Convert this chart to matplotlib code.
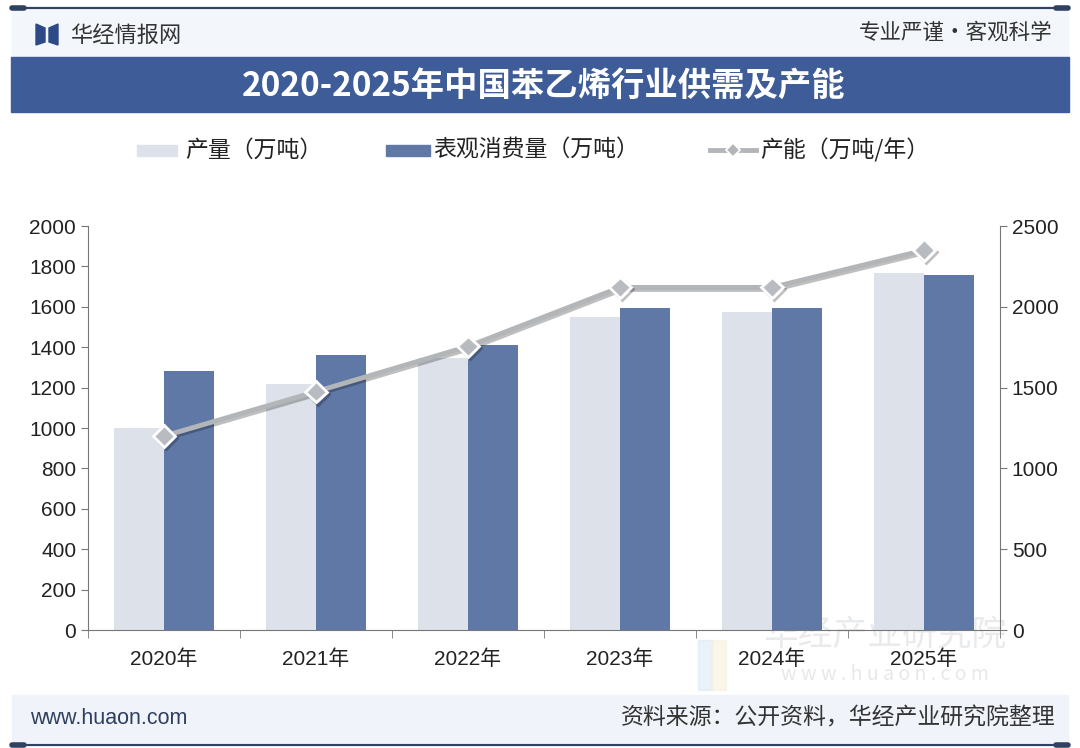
import matplotlib.pyplot as plt
import matplotlib.patheffects as pe
from matplotlib.patches import Rectangle, Polygon
from matplotlib.lines import Line2D
import numpy as np

plt.rcParams['font.family'] = ['Noto Sans CJK SC', 'DejaVu Sans']

years = ['2020年', '2021年', '2022年', '2023年', '2024年', '2025年']
output = [1000, 1218, 1345, 1550, 1575, 1765]
consumption = [1280, 1360, 1410, 1592, 1592, 1757]
capacity = [1200, 1475, 1755, 2120, 2120, 2350]

W, H = 1080, 748
fig = plt.figure(figsize=(W / 100, H / 100), dpi=100)
fig.patch.set_facecolor('white')
num_font = ['Liberation Sans', 'Noto Sans CJK SC']


def fx(px):
    return px / W


def fy(py):
    return 1 - py / H


# header and footer bands
fig.patches.append(Rectangle((fx(12), fy(57)), fx(1056), fy(10) - fy(57),
                             transform=fig.transFigure, color='#F3F6FA', zorder=0))
fig.patches.append(Rectangle((fx(12), fy(742)), fx(1056), fy(695) - fy(742),
                             transform=fig.transFigure, color='#F0F4FA', zorder=0))
for yy in (8, 745):
    fig.add_artist(Line2D([fx(12), fx(1068)], [fy(yy), fy(yy)], transform=fig.transFigure,
                          color='#2F4262', lw=1.6))
    for x0, x1 in ((12, 24), (1056, 1068)):
        fig.add_artist(Line2D([fx(x0), fx(x1)], [fy(yy), fy(yy)], transform=fig.transFigure,
                              color='#2F4262', lw=4, solid_capstyle='round'))

# logo
fig.patches.append(Polygon([(fx(36), fy(24)), (fx(45), fy(28)), (fx(45), fy(42)), (fx(36), fy(45))],
                           closed=True, transform=fig.transFigure, color='#2D4A86'))
fig.patches.append(Polygon([(fx(49), fy(28)), (fx(58), fy(24)), (fx(58), fy(45)), (fx(49), fy(42))],
                           closed=True, transform=fig.transFigure, color='#2D4A86'))
fig.text(fx(70), fy(35), '华经情报网', fontsize=16, color='#333333', va='center', ha='left')
fig.text(fx(1052), fy(33), '专业严谨•客观科学', fontsize=15.5, color='#333333', va='center', ha='right')

# title banner
fig.patches.append(Rectangle((fx(11), fy(112)), fx(1058), fy(57) - fy(112),
                             transform=fig.transFigure, color='#3D5C98', zorder=1))
fig.text(0.503, fy(86), '2020-2025年中国苯乙烯行业供需及产能', fontsize=24, fontweight='bold',
         color='white', ha='center', va='center')

# legend (manual)
c_light = '#DDE2EA'
c_dark = '#5F78A6'
c_line = '#B3B6B9'
fig.patches.append(Rectangle((fx(137), fy(156)), fx(40), fy(145) - fy(156),
                             transform=fig.transFigure, color=c_light))
fig.text(fx(185), fy(150), '产量（万吨）', fontsize=16.5, color='#222222', va='center')
fig.patches.append(Rectangle((fx(386), fy(156)), fx(44), fy(145) - fy(156),
                             transform=fig.transFigure, color=c_dark))
fig.text(fx(433), fy(150), '表观消费量（万吨）', fontsize=16.5, color='#222222', va='center')
fig.add_artist(Line2D([fx(710), fx(756)], [fy(150), fy(150)], transform=fig.transFigure,
                      color=c_line, lw=3.5))
fig.add_artist(Line2D([fx(733)], [fy(150)], transform=fig.transFigure, color=c_line,
                      marker='D', markersize=7, markerfacecolor=c_line, markeredgecolor='white',
                      markeredgewidth=1.2))
fig.text(fx(760), fy(150), '产能（万吨/年）', fontsize=16.5, color='#222222', va='center')

# axes
ax = fig.add_axes([fx(88), fy(630), fx(1000) - fx(88), fy(226) - fy(630)])
ax.set_zorder(2)
ax.patch.set_alpha(0)
x = np.arange(len(years))
bw = 0.33
ax.bar(x - bw / 2, output, bw, color=c_light, zorder=2)
ax.bar(x + bw / 2, consumption, bw, color=c_dark, zorder=2)
ax.set_xlim(-0.5, len(years) - 0.5)
ax.set_ylim(0, 2000)
ax.set_yticks(range(0, 2001, 200))
ax.set_xticks(x)
ax.set_xticklabels(years, family=num_font)
ax.set_xticks(np.arange(-0.5, len(years), 1), minor=True)
ax.tick_params(axis='x', which='major', length=0, pad=14, labelsize=15, labelcolor='#222222')
ax.tick_params(axis='x', which='minor', length=6, color='#777777', direction='out')
ax.tick_params(axis='y', length=5, color='#777777', labelsize=15, labelcolor='#222222')
for lab in ax.get_yticklabels():
    lab.set_family(num_font)
for s in ('top', 'right'):
    ax.spines[s].set_visible(False)
for s in ('left', 'bottom'):
    ax.spines[s].set_color('#777777')

ax2 = ax.twinx()
ax2.set_ylim(0, 2500)
ax2.set_yticks(range(0, 2501, 500))
ax2.tick_params(axis='y', length=5, color='#777777', labelsize=15, labelcolor='#222222')
for lab in ax2.get_yticklabels():
    lab.set_family(num_font)
for s in ('top', 'left', 'bottom'):
    ax2.spines[s].set_visible(False)
ax2.spines['right'].set_color('#777777')
ax2.plot(x, capacity, color=c_line, lw=3.5, marker='D', markersize=11,
         markerfacecolor='#B8BBBF', markeredgecolor='white', markeredgewidth=2, zorder=5,
         path_effects=[pe.SimpleLineShadow(offset=(1.5, -1.5), alpha=0.25), pe.Normal()])

# watermark
fig.patches.append(Rectangle((fx(698), fy(690)), fx(14), fy(640) - fy(690),
                             transform=fig.transFigure, color='#DCE8F5', alpha=0.6))
fig.patches.append(Rectangle((fx(712), fy(690)), fx(14), fy(640) - fy(690),
                             transform=fig.transFigure, color='#F7F1DA', alpha=0.6))
fig.text(fx(885), fy(636), '华经产业研究院', fontsize=25, color='#D3D6DA', alpha=0.5,
         ha='center', va='center', zorder=1)
fig.text(fx(885), fy(674), 'w w w . h u a o n . c o m', fontsize=14, color='#D3D6DA', alpha=0.55,
         ha='center', va='center', zorder=1)

# footer
fig.text(fx(30), fy(718), 'www.huaon.com', fontsize=15.5, color='#2F3F5F', va='center', ha='left',
         family=num_font)
fig.text(fx(1055), fy(718), '资料来源：公开资料，华经产业研究院整理', fontsize=16.5, color='#333333',
         va='center', ha='right')

fig.savefig('out.png', dpi=100)
